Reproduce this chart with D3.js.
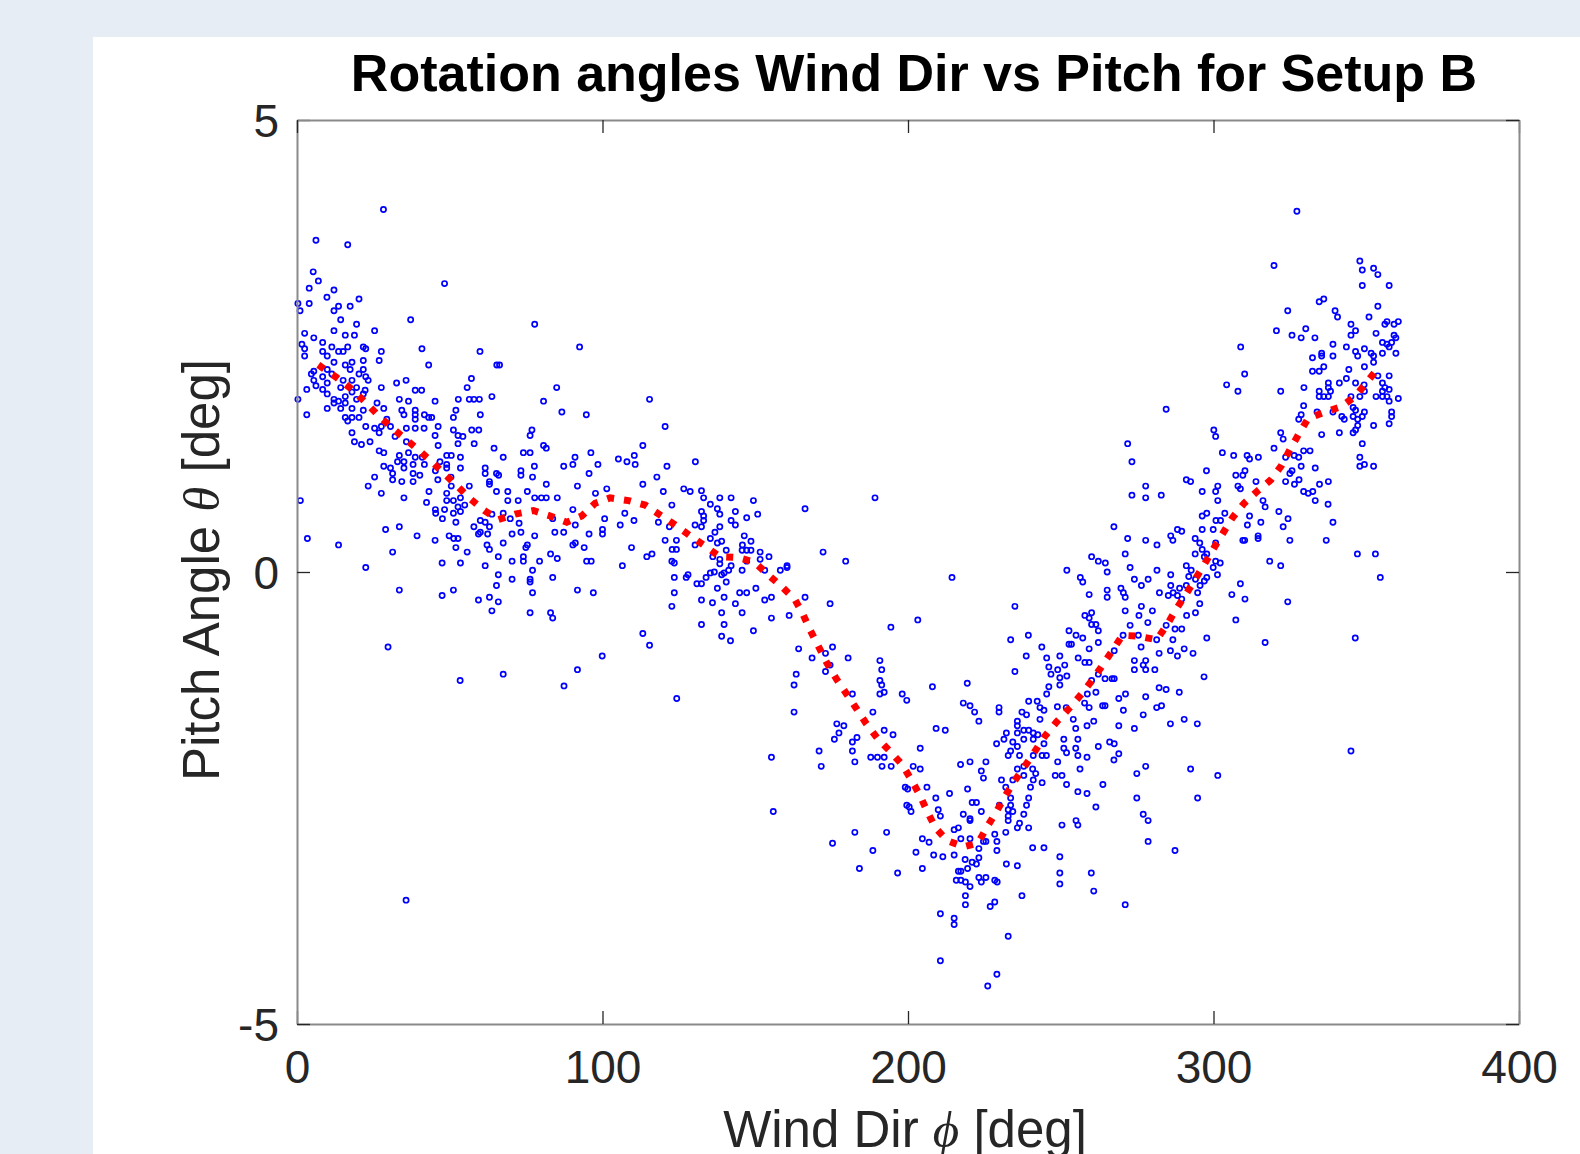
<!DOCTYPE html>
<html>
<head>
<meta charset="utf-8">
<script src="https://cdn.jsdelivr.net/npm/d3@7"></script>
<style>
  body { margin: 0; background: #e6edf5; }
  svg { display: block; }
</style>
</head>
<body>
<script>
// tick values
var xTicks = [0, 100, 200, 300, 400];
var yTicks = [-5, 0, 5];

// scatter: [wind dir, pitch]
var scatterWest = [[28.3,4.01],[6.2,3.67],[16.6,3.62],[5.3,3.32],[7.0,3.22],[48.3,3.19],[4.0,3.14],[12.1,3.12],[9.8,3.04],[20.3,3.02],[0.3,2.97],[4.0,2.97],[13.6,2.94],[17.4,2.94],[1.0,2.89],[12.1,2.89],[37.2,2.79],[14.3,2.79],[19.5,2.74],[77.8,2.74],[2.5,2.64],[15.8,2.62],[18.8,2.62],[12.1,2.67],[25.4,2.67],[5.5,2.59],[92.5,2.49],[1.6,2.52],[8.4,2.54],[11.4,2.49],[13.6,2.44],[16.6,2.49],[21.7,2.49],[27.6,2.44],[40.9,2.47],[59.9,2.44],[2.5,2.47],[8.4,2.44],[15.1,2.44],[22.5,2.47],[2.5,2.39],[9.9,2.39],[12.1,2.32],[15.8,2.29],[18.0,2.32],[21.7,2.34],[26.9,2.34],[43.1,2.29],[65.4,2.29],[66.3,2.29],[5.5,2.22],[9.9,2.24],[17.4,2.24],[21.7,2.24],[4.7,2.19],[8.4,2.16],[11.4,2.19],[20.3,2.19],[22.5,2.16],[57.1,2.14],[5.5,2.12],[9.9,2.09],[15.1,2.12],[18.0,2.12],[23.3,2.12],[6.2,2.06],[14.3,2.04],[19.5,2.04],[27.6,2.04],[32.6,2.09],[35.7,2.12],[55.7,2.04],[85.0,2.04],[3.2,2.02],[8.4,2.02],[22.3,2.01],[18.0,1.99],[21.7,1.97],[0.3,1.91],[9.9,1.97],[15.8,1.94],[13.6,1.89],[12.1,1.91],[19.5,1.91],[26.2,1.87],[33.5,1.91],[36.5,1.89],[38.7,2.01],[40.8,2.01],[45.2,1.89],[52.8,1.91],[56.4,1.91],[57.9,1.91],[59.7,1.91],[63.8,1.94],[80.7,1.89],[115.4,1.91],[12.1,1.87],[15.8,1.87],[18.0,1.81],[9.9,1.81],[14.3,1.81],[21.7,1.79],[28.4,1.81],[34.3,1.79],[38.7,1.79],[52.0,1.79],[3.2,1.74],[15.8,1.71],[18.0,1.71],[20.3,1.71],[35.0,1.74],[38.7,1.74],[41.7,1.74],[43.1,1.71],[44.1,1.71],[51.2,1.71],[60.0,1.74],[86.7,1.77],[94.7,1.74],[16.6,1.67],[22.5,1.61],[25.4,1.59],[27.6,1.61],[29.4,1.69],[38.7,1.69],[46.2,1.61],[120.5,1.61],[18.0,1.54],[26.9,1.54],[30.6,1.61],[32.1,1.50],[35.8,1.59],[38.7,1.59],[41.6,1.59],[51.2,1.57],[57.2,1.57],[59.5,1.57],[45.2,1.51],[52.7,1.51],[54.3,1.50],[76.9,1.57],[76.3,1.51],[18.8,1.44],[21.1,1.41],[23.9,1.44],[35.8,1.44],[46.2,1.40],[52.7,1.42],[58.0,1.42],[80.7,1.40],[81.6,1.37],[113.2,1.40],[26.9,1.34],[28.4,1.32],[33.5,1.29],[36.5,1.32],[38.7,1.27],[41.0,1.27],[49.0,1.29],[50.5,1.29],[53.5,1.27],[64.5,1.37],[67.5,1.27],[74.1,1.32],[76.3,1.32],[91.0,1.27],[96.2,1.32],[105.2,1.25],[110.4,1.29],[108.0,1.22],[130.4,1.22],[28.4,1.17],[32.9,1.22],[35.0,1.22],[38.0,1.19],[41.7,1.19],[46.8,1.22],[49.0,1.19],[53.5,1.15],[35.0,1.15],[30.6,1.15],[38.0,1.09],[40.2,1.07],[31.3,1.09],[45.3,1.12],[49.0,1.15],[77.7,1.17],[87.3,1.17],[90.3,1.19],[98.5,1.19],[110.7,1.19],[121.1,1.17],[25.4,1.05],[31.3,1.02],[34.3,1.00],[38.0,1.00],[46.1,1.02],[50.4,1.05],[61.6,1.09],[65.3,1.09],[66.0,1.07],[61.6,1.15],[73.3,1.12],[73.3,1.07],[77.1,1.05],[95.6,1.09],[117.8,1.05],[23.3,0.95],[27.6,0.87],[35.0,0.82],[43.2,0.89],[42.4,0.77],[49.0,0.87],[50.5,0.95],[56.4,0.95],[49.0,0.79],[51.2,0.79],[53.5,0.82],[63.0,1.00],[63.0,0.97],[65.3,0.89],[69.0,0.89],[72.4,0.79],[69.0,0.79],[75.4,0.89],[81.6,0.97],[77.8,0.82],[80.0,0.82],[81.6,0.82],[85.2,0.82],[91.8,0.95],[97.7,0.87],[101.4,0.92],[113.2,0.97],[119.9,0.89],[126.6,0.92],[128.7,0.89],[122.7,0.74],[1.1,0.79],[45.3,0.69],[48.3,0.69],[52.7,0.72],[53.5,0.67],[54.9,0.74],[51.2,0.65],[45.4,0.65],[47.6,0.59],[52.0,0.55],[57.9,0.50],[60.0,0.57],[60.0,0.44],[59.4,0.42],[62.4,0.42],[61.6,0.55],[63.0,0.50],[63.8,0.64],[69.8,0.59],[67.5,0.65],[72.7,0.54],[70.4,0.42],[73.3,0.44],[77.8,0.40],[83.7,0.59],[84.4,0.44],[87.3,0.44],[90.3,0.69],[91.1,0.52],[90.3,0.30],[91.1,0.32],[94.0,0.27],[95.6,0.42],[100.0,0.47],[100.0,0.42],[100.7,0.59],[105.8,0.52],[110.3,0.57],[107.3,0.65],[118.3,0.55],[121.9,0.50],[124.2,0.35],[120.5,0.35],[130.3,0.52],[130.3,0.30],[29.0,0.47],[33.5,0.50],[39.3,0.40],[45.2,0.35],[49.8,0.40],[51.3,0.37],[52.7,0.37],[52.0,0.27],[55.7,0.22],[3.4,0.37],[13.6,0.30],[31.3,0.22],[62.2,0.30],[63.0,0.25],[67.5,0.32],[75.4,0.30],[74.9,0.27],[109.5,0.27],[114.5,0.17],[116.2,0.20],[122.8,0.25],[124.2,0.25],[47.5,0.10],[53.5,0.10],[65.9,0.17],[70.4,0.12],[74.1,0.17],[74.1,0.12],[79.4,0.12],[83.0,0.20],[85.2,0.15],[94.8,0.12],[96.3,0.12],[106.5,0.07],[122.7,0.12],[123.5,0.10],[61.6,0.07],[77.1,0.02],[22.5,0.05],[65.9,-0.03],[123.5,-0.06],[128.0,-0.03],[127.4,-0.06],[130.9,-0.13],[123.5,-0.23],[122.7,-0.38],[70.4,-0.08],[76.3,-0.08],[76.3,-0.11],[83.7,-0.06],[65.3,-0.15],[91.8,-0.20],[97.0,-0.23],[33.5,-0.20],[47.5,-0.26],[51.2,-0.20],[63.0,-0.28],[59.4,-0.31],[65.9,-0.33],[77.1,-0.23],[63.8,-0.43],[76.3,-0.45],[83.0,-0.45],[83.7,-0.51]];

var scatterWestLow = [[29.8,-0.83],[53.4,-1.20],[67.5,-1.13],[87.4,-1.26],[91.8,-1.08],[99.9,-0.93],[113.2,-0.68],[115.4,-0.81],[124.3,-1.40],[132.4,-0.58],[139.8,-0.58],[139.0,-0.71],[141.9,-0.76],[145.7,-0.45],[132.4,-0.31],[136.0,-0.34],[143.5,-0.35],[139.0,-0.45],[149.4,-0.65],[35.7,-3.63]];

var scatterSouth = [[132.4,0.90],[133.1,0.82],[138.4,0.82],[142.1,0.82],[149.4,0.79],[135.3,0.75],[137.6,0.70],[143.5,0.67],[150.8,0.64],[138.4,0.64],[132.4,0.67],[133.1,0.62],[166.3,0.70],[189.2,0.82],[147.2,0.60],[142.1,0.57],[143.5,0.52],[133.1,0.57],[132.4,0.50],[138.4,0.50],[136.8,0.44],[135.3,0.37],[139.0,0.34],[137.6,0.32],[140.5,0.24],[145.8,0.30],[146.4,0.40],[148.6,0.34],[145.7,0.24],[147.2,0.24],[148.6,0.24],[151.6,0.22],[154.5,0.17],[151.6,0.14],[136.1,0.17],[138.4,0.14],[138.4,0.09],[142.1,0.07],[141.3,0.02],[147.2,0.12],[145.7,0.02],[139.8,-0.01],[139.0,-0.03],[135.3,-0.01],[136.6,0.00],[133.9,-0.06],[132.4,-0.13],[140.5,-0.11],[137.6,-0.18],[153.1,0.02],[158.2,0.02],[160.4,0.07],[160.4,0.05],[172.2,0.22],[179.6,0.12],[214.4,-0.06],[144.9,-0.23],[147.2,-0.23],[150.2,-0.18],[153.1,-0.31],[155.3,-0.28],[139.8,-0.28],[166.3,-0.28],[174.5,-0.35],[161.1,-0.48],[155.3,-0.51],[164.2,-0.85],[168.6,-0.95],[175.3,-0.83],[173.0,-0.90],[174.5,-1.03],[173.0,-1.10],[163.4,-1.13],[162.7,-1.25],[180.4,-0.95],[190.8,-0.98],[191.4,-1.08],[190.8,-1.20],[191.4,-1.25],[192.2,-1.33],[190.8,-1.35],[194.4,-0.61],[203.2,-0.53],[198.1,-1.35],[208.0,-1.27],[219.4,-1.23],[181.8,-1.35],[235.0,-0.38],[233.6,-0.75],[239.4,-0.70],[235.0,-1.10],[238.7,-0.93],[243.8,-0.83],[245.4,-0.95],[246.1,-1.05],[249.7,-0.93],[251.3,-1.03],[249.0,-1.08],[246.8,-1.13],[249.7,-1.17],[252.0,-1.15],[249.7,-1.25],[246.1,-1.27],[245.4,-1.35],[255.7,-0.95],[257.9,-1.00],[259.3,-1.00],[252.7,-0.65],[255.0,-0.70],[257.2,-0.73],[252.7,-0.80],[253.5,-0.80],[259.3,-0.85],[262.3,-0.78],[257.9,-0.48],[260.1,-0.45],[259.3,-0.51],[260.1,-0.58],[261.5,-0.58],[262.3,-0.65],[259.3,-0.25],[256.4,-0.06],[257.2,-0.11],[252.0,0.02],[260.1,0.17],[262.3,0.12],[262.3,-1.13],[260.1,-1.20],[261.5,-1.33],[258.7,-1.35]];

var scatterValley = [[162.7,-1.55],[155.3,-2.05],[155.9,-2.65],[170.9,-1.98],[171.6,-2.15],[176.7,-1.68],[179.0,-1.70],[177.4,-1.78],[175.9,-1.85],[183.3,-1.83],[181.8,-1.88],[181.8,-1.98],[182.6,-2.10],[187.8,-2.05],[190.0,-2.05],[191.5,-2.15],[192.2,-1.75],[195.1,-1.80],[192.2,-2.05],[194.5,-2.15],[188.5,-1.55],[199.6,-1.42],[204.0,-1.95],[201.7,-2.15],[204.0,-2.18],[199.1,-2.38],[199.9,-2.40],[206.2,-2.38],[199.6,-2.58],[200.4,-2.60],[201.0,-2.65],[209.1,-2.50],[209.9,-2.63],[210.6,-2.70],[213.6,-2.45],[209.2,-1.73],[212.2,-1.75],[218.1,-1.45],[220.3,-1.48],[221.8,-1.55],[223.2,-1.65],[229.8,-1.50],[229.8,-1.55],[217.2,-2.13],[220.3,-2.10],[224.0,-2.20],[224.7,-2.28],[225.5,-2.10],[219.5,-2.40],[221.0,-2.55],[222.4,-2.55],[224.0,-2.65],[218.1,-2.68],[220.3,-2.73],[220.3,-2.75],[215.1,-2.85],[216.5,-2.83],[217.3,-2.95],[220.3,-2.95],[223.2,-3.06],[224.7,-2.98],[225.5,-2.98],[223.2,-3.16],[222.4,-3.23],[221.0,-3.21],[219.5,-3.28],[217.3,-3.31],[216.5,-3.31],[215.8,-3.41],[217.3,-3.41],[218.8,-3.43],[220.3,-3.48],[223.2,-3.38],[224.0,-3.43],[225.5,-3.38],[228.4,-3.41],[229.2,-3.43],[215.1,-3.13],[218.7,-3.18],[218.8,-3.58],[218.8,-3.68],[228.4,-3.65],[226.9,-3.70],[210.6,-3.78],[215.1,-3.83],[215.1,-3.90],[232.8,-4.03],[210.6,-4.30],[229.1,-4.45],[226.1,-4.58],[204.7,-2.95],[206.9,-2.99],[208.4,-3.13],[211.4,-3.15],[202.6,-3.10],[204.7,-3.28],[196.6,-3.33],[184.1,-3.28],[188.5,-3.08],[193.0,-2.88],[182.6,-2.88],[175.3,-3.00],[228.4,-2.90],[229.1,-2.98],[229.1,-3.08],[232.2,-3.23],[235.8,-3.25],[237.3,-3.58],[240.8,-3.05],[244.5,-3.05],[232.0,-2.88],[235.8,-2.83],[239.5,-2.83],[236.5,-2.78],[232.8,-2.75],[232.8,-2.70],[237.9,-2.68],[234.3,-2.65],[232.8,-2.63],[229.9,-2.58],[233.6,-2.58],[238.8,-2.58],[239.5,-2.50],[233.6,-2.50],[232.0,-2.38],[230.6,-2.30],[234.3,-2.30],[240.1,-2.38],[241.0,-2.30],[243.9,-2.33],[237.9,-2.25],[241.8,-2.23],[235.8,-2.18],[237.9,-2.15],[240.8,-2.18],[232.8,-2.03],[233.6,-1.98],[235.8,-1.93],[236.5,-2.03],[234.3,-1.88],[231.4,-1.85],[229.0,-1.90],[232.2,-1.78],[235.8,-1.78],[237.9,-1.75],[239.5,-1.75],[241.0,-1.78],[242.5,-1.80],[237.9,-1.85],[241.0,-1.85],[235.8,-1.70],[235.8,-1.65],[238.8,-1.58],[243.2,-1.63],[241.0,-2.03],[243.9,-2.03],[245.3,-2.03],[244.5,-1.90],[237.3,-1.55],[239.5,-1.43],[242.3,-1.43],[243.2,-1.50],[244.5,-1.53],[251.0,-1.85],[251.0,-1.95],[251.9,-2.00],[255.6,-1.85],[254.9,-1.95],[255.6,-2.03],[258.6,-2.05],[249.0,-2.10],[248.2,-2.25],[250.4,-2.25],[251.9,-2.35],[255.6,-2.43],[258.6,-2.45],[256.3,-2.18],[254.9,-1.73],[258.6,-1.70],[260.8,-1.65],[254.1,-1.63],[262.3,-1.93],[266.0,-1.88],[267.5,-1.90],[269.0,-2.01],[267.4,-2.08],[263.8,-2.35],[261.5,-2.60],[255.0,-2.75],[255.6,-2.80],[250.4,-2.80],[249.7,-3.15],[249.7,-3.33],[249.7,-3.45],[260.0,-3.33],[260.8,-3.53],[271.1,-3.68],[248.9,-1.49],[251.8,-1.50],[269.0,-1.70],[274.1,-1.73],[274.9,-2.23],[277.8,-2.15],[274.9,-2.50],[277.0,-2.68],[278.6,-2.75],[278.6,-2.98],[287.4,-3.08],[292.5,-2.18],[294.8,-2.50],[285.9,-1.68],[290.4,-1.63],[294.7,-1.68],[281.4,-1.50],[283.0,-1.48],[277.0,-1.58],[270.5,-1.53],[263.7,-1.48],[264.5,-1.48],[259.3,-1.50],[257.8,-1.45],[277.8,-1.38],[284.5,-1.30],[282.2,-1.28],[288.8,-1.33],[269.0,-1.40],[271.2,-1.35],[264.5,-1.18],[266.8,-1.18],[267.5,-1.18],[267.5,-0.87],[270.4,-0.70],[275.4,-0.70],[281.4,-0.75],[284.5,-0.59],[287.4,-0.63],[289.6,-0.63],[286.7,-0.75],[285.9,-0.87],[288.2,-0.93],[293.3,-0.90],[290.4,-0.85],[282.2,-0.90],[274.1,-0.98],[277.8,-0.98],[280.8,-1.08],[277.8,-1.08],[274.1,-1.08],[277.0,-1.03],[276.3,-0.83],[272.7,-0.59],[278.5,-0.56]];

var scatterNorth = [[327.3,3.99],[319.8,3.39],[347.9,3.44],[348.7,3.34],[352.4,3.36],[353.8,3.29],[348.7,3.17],[357.5,3.17],[334.6,2.99],[336.1,3.02],[324.3,2.89],[339.8,2.89],[340.6,2.82],[353.8,2.94],[345.0,2.74],[350.9,2.82],[346.5,2.67],[345.0,2.62],[356.1,2.74],[356.8,2.77],[359.1,2.74],[360.5,2.77],[353.2,2.64],[359.1,2.62],[359.7,2.59],[355.3,2.54],[356.8,2.52],[358.3,2.54],[357.5,2.49],[359.7,2.42],[355.3,2.42],[320.6,2.67],[325.7,2.62],[328.7,2.59],[330.2,2.69],[333.2,2.59],[308.9,2.49],[339.1,2.52],[335.4,2.42],[335.4,2.39],[339.1,2.39],[343.5,2.49],[346.5,2.44],[347.2,2.39],[349.4,2.47],[351.6,2.42],[352.4,2.39],[352.4,2.32],[332.4,2.37],[332.4,2.22],[334.6,2.22],[336.1,2.27],[344.3,2.24],[349.4,2.27],[357.5,2.17],[353.8,2.17],[310.2,2.19],[304.3,2.07],[308.0,2.00],[322.0,2.00],[329.6,2.04],[337.6,2.09],[337.6,2.04],[341.2,2.09],[343.5,2.14],[346.5,2.09],[349.3,2.07],[355.3,2.09],[356.1,2.04],[357.5,2.02],[355.3,2.00],[334.6,2.00],[338.3,2.00],[334.6,1.94],[336.1,1.94],[337.6,1.94],[345.0,1.94],[347.9,1.94],[349.4,2.00],[353.2,1.94],[355.3,1.94],[356.8,1.94],[357.5,1.89],[360.5,1.92],[329.5,1.84],[328.7,1.74],[327.9,1.69],[333.9,1.77],[339.1,1.77],[342.0,1.72],[345.7,1.82],[346.5,1.79],[349.4,1.77],[342.8,1.69],[345.7,1.72],[347.2,1.69],[348.7,1.72],[347.2,1.62],[352.4,1.62],[346.5,1.57],[345.7,1.54],[341.2,1.54],[335.4,1.52],[358.3,1.77],[358.3,1.72],[357.5,1.64],[348.7,1.42],[347.9,1.27],[347.9,1.17],[349.4,1.19],[352.4,1.17],[347.1,0.20],[353.0,0.20],[354.6,-0.06],[284.5,1.80],[271.9,1.42],[273.3,1.22],[300.1,1.57],[300.7,1.50],[322.0,1.54],[322.8,1.47],[319.8,1.37],[329.5,1.34],[331.6,1.34],[326.4,1.29],[327.9,1.27],[323.6,1.27],[302.9,1.32],[306.6,1.29],[311.0,1.29],[311.8,1.25],[314.7,1.27],[328.7,1.17],[325.7,1.12],[325.0,1.09],[333.3,1.15],[297.7,1.12],[310.3,1.12],[307.3,1.07],[309.6,1.07],[323.6,1.00],[326.5,0.97],[328.0,1.02],[334.7,0.97],[337.6,1.00],[329.5,0.89],[331.0,0.87],[332.5,0.89],[333.3,0.79],[291.1,1.02],[292.5,1.00],[277.8,0.95],[277.8,0.82],[273.3,0.85],[282.9,0.85],[296.3,0.89],[300.7,0.89],[301.4,0.95],[301.4,0.79],[308.0,0.95],[308.8,0.92],[313.9,1.00],[316.2,0.79],[316.9,0.72],[321.4,0.67],[324.4,0.59],[322.8,0.50],[315.5,0.55],[311.1,0.52],[311.8,0.62],[314.6,0.40],[314.6,0.37],[309.6,0.35],[310.2,0.35],[325.0,0.35],[318.4,0.12],[322.0,0.07],[324.3,-0.33],[310.3,-0.30],[306.0,-0.25],[308.8,-0.13],[307.3,-0.53],[336.9,0.35],[339.1,0.55],[337.5,0.75],[297.8,0.65],[296.3,0.47],[299.9,0.47],[302.3,0.57],[303.7,0.65],[300.8,0.57],[296.3,0.62],[294.0,0.37],[295.5,0.32],[300.7,0.32],[296.3,0.25],[297.8,0.20],[297.0,0.17],[300.7,0.12],[302.2,0.10],[299.9,0.05],[301.3,-0.03],[297.8,-0.06],[297.0,-0.10],[294.1,-0.08],[291.9,-0.05],[292.7,0.02],[291.1,0.07],[295.6,-0.15],[294.8,-0.23],[295.5,-0.35],[294.1,-0.45],[291.1,-0.15],[288.9,-0.18],[288.2,-0.26],[286.0,-0.15],[286.8,-0.23],[285.2,-0.26],[286.0,-0.03],[282.3,-0.23],[281.5,0.02],[278.6,-0.08],[276.4,-0.15],[274.1,-0.08],[272.7,0.05],[264.6,0.10],[265.2,0.00],[265.2,-0.20],[265.2,-0.28],[269.7,-0.18],[270.5,-0.23],[271.1,-0.28],[271.1,0.20],[271.9,0.37],[267.4,0.50],[277.8,0.35],[281.5,0.30],[286.0,0.40],[286.7,0.35],[288.2,0.47],[289.6,0.45],[294.0,0.20],[276.4,-0.38],[280.0,-0.43],[271.1,-0.43],[275.6,-0.48],[289.6,-0.30],[291.2,-0.48]];

var scatterNorthLow = [[297.8,-0.73],[316.9,-0.78],[346.4,-0.73],[296.9,-1.16],[345.0,-1.98],[301.4,-2.25]];

// red dotted mean curve
var meanDir = [7.0,8.7,13.0,17.6,22.0,26.1,30.5,34.8,39.4,43.8,48.1,52.5,56.7,61.3,65.9,71.4,77.4,82.9,88.3,93.2,97.6,102.5,108.5,114.0,118.9,123.8,128.7,133.4,138.4,144.3,149.7,154.2,158.6,162.9,165.5,168.1,170.8,173.5,176.5,179.9,183.1,186.4,190.0,194.0,198.1,201.1,203.9,206.3,209.0,212.8,218.3,222.9,225.7,228.8,231.6,234.7,238.2,241.4,244.7,248.6,252.7,256.3,260.0,263.3,266.7,270.2,275.3,281.4,284.7,287.6,290.9,294.0,297.1,300.2,303.1,306.2,310.0,314.2,318.8,322.3,325.1,328.0,331.0,336.5,341.9,346.6,350.4,354.0];
var meanPitch = [2.29,2.25,2.15,2.03,1.89,1.75,1.61,1.49,1.36,1.23,1.09,0.95,0.81,0.68,0.58,0.64,0.68,0.62,0.55,0.62,0.76,0.82,0.79,0.74,0.63,0.52,0.40,0.29,0.17,0.16,0.11,-0.03,-0.16,-0.30,-0.46,-0.65,-0.83,-1.01,-1.18,-1.35,-1.51,-1.68,-1.84,-1.98,-2.13,-2.30,-2.47,-2.65,-2.83,-2.97,-3.04,-3.00,-2.83,-2.66,-2.49,-2.32,-2.15,-1.99,-1.82,-1.66,-1.51,-1.37,-1.21,-1.05,-0.88,-0.70,-0.71,-0.75,-0.59,-0.42,-0.25,-0.08,0.09,0.27,0.43,0.60,0.76,0.89,1.02,1.18,1.36,1.53,1.70,1.77,1.83,1.95,2.11,2.26];

var W = 1580, H = 1154;
var plotLeft = 297, plotRight = 1519, plotTop = 120, plotBottom = 1024;
var font = "'Liberation Sans', Arial, Helvetica, sans-serif";
var serif = "'Liberation Serif', 'DejaVu Serif', serif";

var svg = d3.select("body").append("svg").attr("width", W).attr("height", H);
svg.append("rect").attr("width", W).attr("height", H).attr("fill", "#e6edf5");
svg.append("rect").attr("x", 93).attr("y", 37).attr("width", W - 93).attr("height", H - 37).attr("fill", "#ffffff");

var x = d3.scaleLinear().domain([0, 400]).range([plotLeft, plotRight]);
var y = d3.scaleLinear().domain([-5, 5]).range([plotBottom, plotTop]);

var allPoints = scatterWest.concat(scatterWestLow, scatterSouth, scatterValley, scatterNorth, scatterNorthLow);

// scatter
svg.append("g").selectAll("circle").data(allPoints).join("circle")
  .attr("cx", function(d){ return x(d[0]); })
  .attr("cy", function(d){ return y(d[1]); })
  .attr("r", 2.6)
  .attr("fill", "none")
  .attr("stroke", "#0000ff")
  .attr("stroke-width", 1.7);

// mean curve
var line = d3.line().x(function(d){ return x(d); }).y(function(d, i){ return y(meanPitch[i]); });
svg.append("path").attr("d", line(meanDir))
  .attr("fill", "none")
  .attr("stroke", "#ff0000")
  .attr("stroke-width", 7)
  .attr("stroke-dasharray", "7,10");

// axes, ticks pointing inward on all four sides
var hyphen = function(d){ return String(d); };
var xAxis = d3.axisBottom(x).tickValues(xTicks).tickFormat(hyphen).tickSizeInner(-13).tickSizeOuter(0).tickPadding(26);
var yAxis = d3.axisLeft(y).tickValues(yTicks).tickFormat(hyphen).tickSizeInner(-13).tickSizeOuter(0).tickPadding(18);
var xTop = d3.axisTop(x).tickValues(xTicks).tickSizeInner(-13).tickSizeOuter(0).tickFormat("");
var yRight = d3.axisRight(y).tickValues(yTicks).tickSizeInner(-13).tickSizeOuter(0).tickFormat("");

var gx = svg.append("g").attr("transform", "translate(0," + plotBottom + ")").call(xAxis);
var gy = svg.append("g").attr("transform", "translate(" + plotLeft + ",0)").call(yAxis);
var gt = svg.append("g").attr("transform", "translate(0," + plotTop + ")").call(xTop);
var gr = svg.append("g").attr("transform", "translate(" + plotRight + ",0)").call(yRight);

[gx, gy, gt, gr].forEach(function(g){
  g.select(".domain").attr("stroke", "#8a8a8a").attr("stroke-width", 2);
  g.selectAll(".tick line").attr("stroke", "#262626").attr("stroke-width", 1.3);
  g.selectAll(".tick text").attr("fill", "#262626").style("font-family", font).style("font-size", "46px");
});
gy.selectAll(".tick text").attr("dy", "0.36em");

// title and labels
svg.append("text").attr("x", 914).attr("y", 91).attr("text-anchor", "middle")
  .style("font-family", font).style("font-size", "52px").style("font-weight", "bold")
  .attr("fill", "#000").text("Rotation angles Wind Dir vs Pitch for Setup B");

var xl = svg.append("text").attr("x", 905).attr("y", 1147).attr("text-anchor", "middle")
  .style("font-family", font).style("font-size", "51px").attr("fill", "#262626");
xl.append("tspan").text("Wind Dir ");
xl.append("tspan").style("font-family", serif).style("font-style", "italic").text("ϕ");
xl.append("tspan").text(" [deg]");

var yl = svg.append("text").attr("transform", "translate(219,570) rotate(-90)").attr("text-anchor", "middle")
  .style("font-family", font).style("font-size", "51px").attr("fill", "#262626");
yl.append("tspan").text("Pitch Angle ");
yl.append("tspan").style("font-family", serif).style("font-style", "italic").text("θ");
yl.append("tspan").text(" [deg]");
</script>
</body>
</html>
